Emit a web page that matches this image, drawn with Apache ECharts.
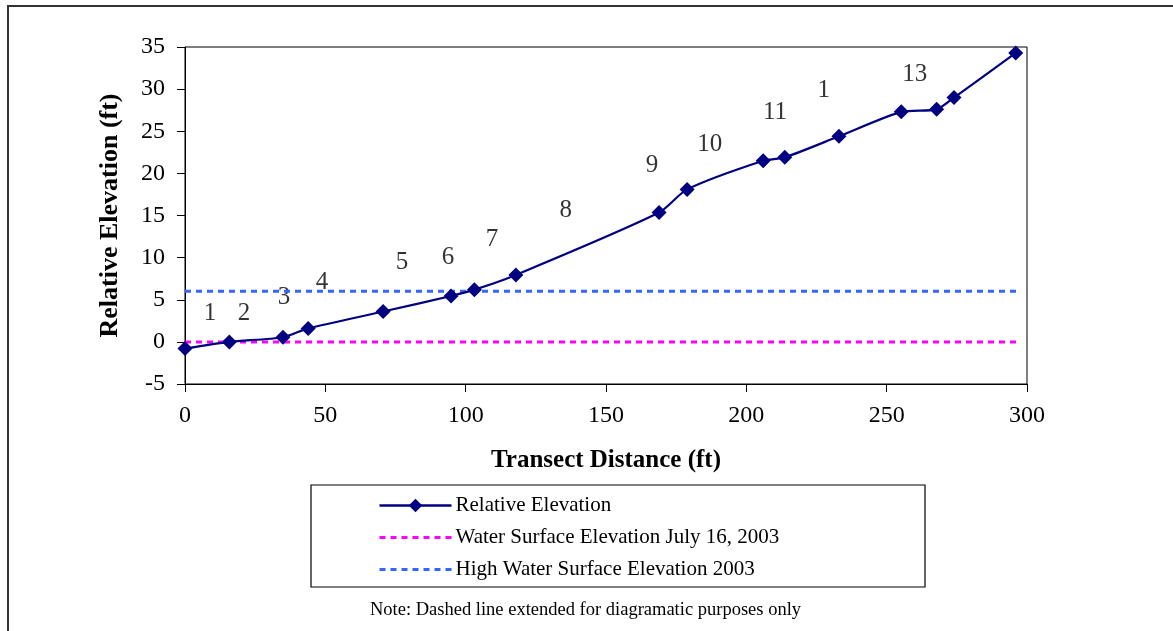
<!DOCTYPE html>
<html>
<head>
<meta charset="utf-8">
<script src="https://cdn.jsdelivr.net/npm/echarts@6/dist/echarts.min.js"></script>
<style>html,body{margin:0;padding:0;background:#fff;}#c{width:1173px;height:631px;}</style>
</head>
<body>
<div id="c"></div>
<script>
// Data
var distance = [0, 15.8, 34.9, 43.9, 70.6, 94.8, 103.1, 117.9, 168.9, 178.9, 206, 213.7, 233, 255.2, 267.8, 274, 296];
var elevation = [-0.8, 0, 0.55, 1.6, 3.6, 5.45, 6.2, 7.95, 15.35, 18.1, 21.5, 21.9, 24.4, 27.3, 27.6, 29.0, 34.3];
var waterX = [0, 296.5];
var waterY = [0, 0];
var highWaterY = [6, 6];
var stationLabels = ['1', '2', '3', '4', '5', '6', '7', '8', '9', '10', '11', '1', '13'];
var stationX = [8.9, 21, 35.3, 48.8, 77.3, 93.7, 109.4, 135.7, 166.4, 187, 210.2, 227.6, 260];
var stationY = [3.4, 3.4, 5.3, 7.0, 9.4, 10, 12.2, 15.6, 21, 23.4, 27.2, 29.8, 31.7];
var xTicks = [0, 300, 50];
var yTicks = [-5, 35, 5];
var seriesNames = ['Relative Elevation', 'Water Surface Elevation July 16, 2003', 'High Water Surface Elevation 2003'];
var noteText = 'Note: Dashed line extended for diagramatic purposes only';

function pairs(xs, ys) { return xs.map(function (x, i) { return [x, ys[i]]; }); }

var FONT = '"Liberation Serif", "Times New Roman", serif';
var chart = echarts.init(document.getElementById('c'));
chart.setOption({
  animation: false,
  backgroundColor: '#fff',
  textStyle: { fontFamily: FONT },
  grid: { left: 185, right: 146, top: 47, bottom: 247, show: true, borderColor: '#000', borderWidth: 1, backgroundColor: 'transparent' },
  xAxis: {
    type: 'value', min: xTicks[0], max: xTicks[1], interval: xTicks[2],
    name: 'Transect Distance (ft)', nameLocation: 'middle', nameGap: 64,
    nameTextStyle: { fontFamily: FONT, fontSize: 25, fontWeight: 'bold', color: '#000' },
    axisLine: { onZero: false, lineStyle: { color: '#000', width: 1 } },
    axisTick: { show: true, length: 8, inside: false, lineStyle: { color: '#000' } },
    axisLabel: { fontFamily: FONT, fontSize: 24, color: '#000', margin: 20 },
    splitLine: { show: false }
  },
  yAxis: {
    type: 'value', min: yTicks[0], max: yTicks[1], interval: yTicks[2],
    name: 'Relative Elevation (ft)', nameLocation: 'middle', nameGap: 62,
    nameTextStyle: { fontFamily: FONT, fontSize: 26, fontWeight: 'bold', color: '#000' },
    axisLine: { show: true, onZero: false, lineStyle: { color: '#000', width: 1 } },
    axisTick: { show: true, length: 8, inside: false, lineStyle: { color: '#000' } },
    axisLabel: { fontFamily: FONT, fontSize: 24, color: '#000', margin: 20 },
    splitLine: { show: false }
  },
  legend: {
    orient: 'vertical', left: 373, top: 490,
    itemWidth: 72, itemHeight: 17, itemGap: 11,
    textStyle: { fontFamily: FONT, fontSize: 21, color: '#000', padding: [0, 0, 0, -1] },
    data: [
      { name: seriesNames[0], lineStyle: { width: 2.5 } },
      { name: seriesNames[1], itemStyle: { opacity: 0 }, lineStyle: { width: 3, type: [6, 5] } },
      { name: seriesNames[2], itemStyle: { opacity: 0 }, lineStyle: { width: 3, type: [6, 5] } }
    ]
  },
  graphic: [
    { type: 'rect', shape: { x: 8, y: 6, width: 1250, height: 700 }, style: { fill: 'none', stroke: '#333', lineWidth: 2 }, silent: true, z: -1 },
    { type: 'rect', shape: { x: 311, y: 485, width: 614, height: 102 }, style: { fill: 'none', stroke: '#000', lineWidth: 1.2 }, silent: true },
    { type: 'text', left: 370, top: 601, style: { text: noteText, font: '18.5px ' + FONT, fill: '#000' } }
  ],
  series: [
    {
      name: seriesNames[0], type: 'line', data: pairs(distance, elevation), smooth: 0.25,
      symbol: 'diamond', symbolSize: 15, showSymbol: true,
      lineStyle: { color: '#000080', width: 2.2 }, itemStyle: { color: '#000080' }, z: 5
    },
    {
      name: seriesNames[1], type: 'line', data: pairs(waterX, waterY), symbol: 'none',
      lineStyle: { color: '#FF00FF', width: 3, type: [6, 5] }, itemStyle: { color: '#FF00FF' }, z: 3
    },
    {
      name: seriesNames[2], type: 'line', data: pairs(waterX, highWaterY), symbol: 'none',
      lineStyle: { color: '#3366FF', width: 3, type: [6, 5] }, itemStyle: { color: '#3366FF' }, z: 3
    },
    {
      name: 'stations', type: 'scatter', symbolSize: 0, silent: true,
      data: stationX.map(function (x, i) { return { value: [x, stationY[i]], name: stationLabels[i] }; }),
      label: { show: true, position: 'inside', formatter: '{b}', fontFamily: FONT, fontSize: 25, color: '#000' }
    }
  ]
});
</script>
</body>
</html>
